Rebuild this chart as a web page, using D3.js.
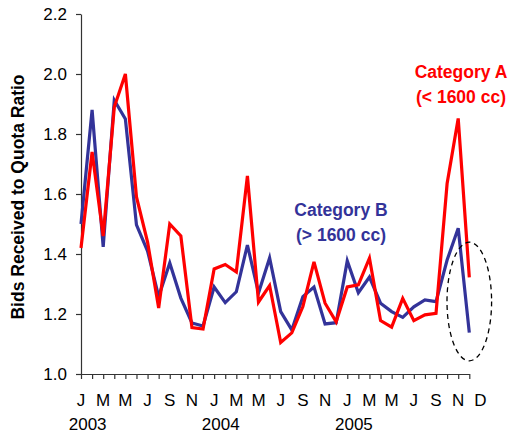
<!DOCTYPE html>
<html><head><meta charset="utf-8">
<script src="https://cdn.jsdelivr.net/npm/d3@7"></script>
<style>body{margin:0;background:#fff}svg{display:block}text{font-family:Arial,"Liberation Sans",sans-serif}</style>
</head><body><svg id="c" width="512" height="435"></svg>
<script>
const months = d3.range(36).map(i => ["Jan","Feb","Mar","Apr","May","Jun","Jul","Aug","Sep","Oct","Nov","Dec"][i%12] + " " + (2003 + Math.floor(i/12)));
const categoryA = [1.42,1.74,1.46,1.89,2.00,1.59,1.44,1.22,1.50,1.46,1.155,1.15,1.35,1.365,1.34,1.66,1.24,1.295,1.105,1.137,1.225,1.374,1.236,1.174,1.29,1.297,1.386,1.178,1.156,1.252,1.178,1.197,1.202,1.635,1.852,1.322];
const categoryB = [1.50,1.88,1.424,1.913,1.85,1.497,1.41,1.258,1.37,1.253,1.17,1.16,1.29,1.238,1.274,1.43,1.27,1.387,1.208,1.147,1.258,1.29,1.167,1.171,1.377,1.271,1.323,1.236,1.208,1.189,1.224,1.247,1.241,1.38,1.486,1.138];
const yTicks = [1.0,1.2,1.4,1.6,1.8,2.0,2.2];
const monthLetters = ["J","M","M","J","S","N","J","M","M","J","S","N","J","M","M","J","S","N","D"];
const years = ["2003","2004","2005"];
const seriesNames = [["Category A","(< 1600 cc)"],["Category B","(> 1600 cc)"]];
const yTitle = "Bids Received to Quota Ratio";

const svg = d3.select("#c");
const x = d3.scaleLinear().domain([0,35]).range([81,469.3]);
const y = d3.scaleLinear().domain([1.0,2.2]).range([374,14]);

// y axis
const ya = svg.append("g").attr("transform","translate(81,0)")
  .call(d3.axisLeft(y).tickValues(yTicks).tickFormat(d3.format(".1f")).tickSize(5).tickSizeOuter(0).tickPadding(9));
ya.selectAll("path,line").attr("stroke","#333").attr("stroke-width",1.2);
ya.selectAll("text").attr("font-size",17).attr("fill","#000").style("font-family","Arial,'Liberation Sans',sans-serif");

// x axis
const xa = svg.append("g").attr("transform","translate(0,374)")
  .call(d3.axisBottom(x).tickValues(d3.range(36)).tickFormat("").tickSize(5).tickSizeOuter(0));
xa.selectAll("path,line").attr("stroke","#333").attr("stroke-width",1.2);

// month letters (every other month, plus final D)
const letterIdx = monthLetters.map((d,i) => i < 18 ? i*2 : 36);
svg.append("g").selectAll("text").data(monthLetters).join("text")
  .attr("x",(d,i)=>x(letterIdx[i])).attr("y",406).attr("text-anchor","middle")
  .attr("font-size",17).text(d=>d);
svg.append("g").selectAll("text").data(years).join("text")
  .attr("x",(d,i)=>x(i*12+0.6)).attr("y",430).attr("text-anchor","middle")
  .attr("font-size",17).text(d=>d);

// y title
svg.append("text").attr("transform","translate(24,197) rotate(-90)")
  .attr("text-anchor","middle").attr("font-size",17.5).attr("font-weight","bold").text(yTitle);

// lines
const line = d3.line().x((d,i)=>x(i)).y(d=>y(d));
svg.append("path").datum(categoryB).attr("d",line).attr("fill","none")
  .attr("stroke","#333399").attr("stroke-width",3.2).attr("stroke-linejoin","miter");
svg.append("path").datum(categoryA).attr("d",line).attr("fill","none")
  .attr("stroke","#ff0000").attr("stroke-width",3.2).attr("stroke-linejoin","miter");

// dashed ellipse
svg.append("ellipse").attr("cx",x(35)).attr("cy",301.5).attr("rx",22.3).attr("ry",59.3)
  .attr("fill","none").attr("stroke","#000").attr("stroke-width",1.3).attr("stroke-dasharray","5,4");

// labels
const lab = (lines, cx, by, col) => {
  lines.forEach((t,k)=>svg.append("text").attr("x",cx).attr("y",by+k*25)
    .attr("text-anchor","middle").attr("font-size",17.5).attr("font-weight","bold")
    .attr("fill",col).text(t));
};
lab(seriesNames[0], 461, 78, "#ff0000");
lab(seriesNames[1], 341, 216, "#333399");
</script></body></html>
